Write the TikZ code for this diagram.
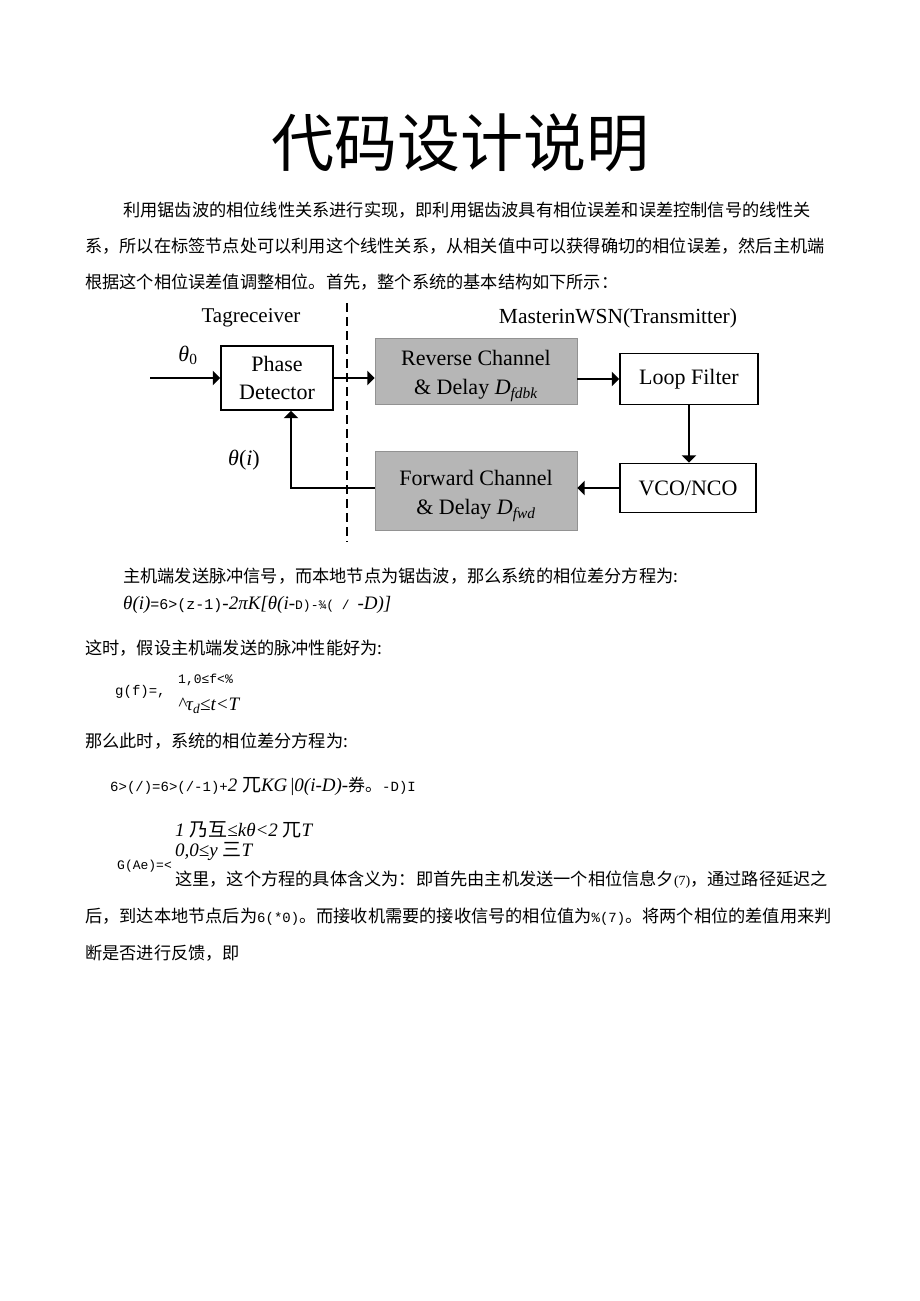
\documentclass[tikz,border=0pt]{standalone}
\usepackage{fontspec}
\setmainfont{Liberation Serif}
\newfontfamily\cjk{Noto Sans CJK SC}
\newfontfamily\hw{Liberation Mono}
\usetikzlibrary{arrows}
\newcommand\fsz[1]{\fontsize{#1}{1.3\dimexpr #1pt\relax}\selectfont}
\definecolor{chgray}{RGB}{182,182,182}
\tikzset{%
  myblock/.style={draw=black, line width=1.6pt, inner sep=0pt, font=\fsz{22}, align=center},
  mychan/.style={fill=chgray, draw=chgray!80!black, line width=0.6pt, inner sep=0pt},
  chantext/.style={align=center, font=\fsz{22}, yshift=-5},
  myedge/.style={->, line width=1.6pt, >=triangle 90},
  mytext/.style={anchor=west, inner sep=0pt, font=\cjk\fsz{17.2}},
  mymath/.style={anchor=west, inner sep=0pt, font=\fsz{19}}
}

\begin{document}
\begin{tikzpicture}[x=1pt, y=-1pt]
\useasboundingbox (0,0) rectangle (920,1301);
\fill [white] (0,0) rectangle (920,1301);

\node (title) [font=\cjk\fsz{63}] at (460,143) {代码设计说明};

\node (p1) [mytext] at (123,210) {利用锯齿波的相位线性关系进行实现，即利用锯齿波具有相位误差和误差控制信号的线性关};
\node (p2) [mytext] at (85,246) {系，所以在标签节点处可以利用这个线性关系，从相关值中可以获得确切的相位误差，然后主机端};
\node (p3) [mytext] at (85,282) {根据这个相位误差值调整相位。首先，整个系统的基本结构如下所示：};

% 系统框图
\node (tag) [font=\fsz{21}] at (251,318) {Tagreceiver};
\node (mst) [font=\fsz{21.5}] at (618,318) {MasterinWSN(Transmitter)};

\coordinate (in) at (150,378);
\coordinate (dtop) at (347,303);
\coordinate (dbot) at (347,542);

\node (pd) [myblock, minimum width=112, minimum height=64] at (277,378) {Phase\\Detector};
\node (rc) [mychan, minimum width=202, minimum height=66] at (476,371) {};
\node (rct) [chantext] at (rc) {Reverse Channel\\\& Delay \textit{D}\textsubscript{\textit{fdbk}}};
\node (lf) [myblock, minimum width=138, minimum height=51] at (689,379) {Loop Filter};
\node (vco) [myblock, minimum width=136, minimum height=49] at (688,488) {VCO/NCO};
\node (fc) [mychan, minimum width=202, minimum height=79] at (476,491) {};
\node (fct) [chantext] at (fc) {Forward Channel\\\& Delay \textit{D}\textsubscript{\textit{fwd}}};

\node (th0) [font=\fsz{22}] at (188,355) {\textit{θ}\textsubscript{0}};
\node (thi) [font=\fsz{22}] at (244,460) {\textit{θ}(\textit{i})};

\draw [dashed, line width=2.6pt, dash pattern=on 9pt off 5pt] (dtop) -- (dbot);

\draw [myedge] (in) -- (pd.west);
\draw [myedge] (pd.east) -- (pd.east -| rc.west);
\draw [myedge] (lf.west -| rc.east) -- (lf.west);
\draw [myedge] (lf.south) -- (lf.south |- vco.north);
\draw [myedge] (vco.west) -- (vco.west -| fc.east);
\draw [myedge] (vco.west -| fc.west) -| ([xshift=14]pd.south);

\node (p4) [mytext] at (123,576) {主机端发送脉冲信号，而本地节点为锯齿波，那么系统的相位差分方程为:};
\node (f1) [mymath] at (123,605) {{\itshape θ(i)}{\hw\fsz{15}=6>(z-1)}{\itshape -2πK[θ(i-}{\hw\fsz{13}D)-¾( / }{\itshape -D)]}};

\node (p5) [mytext] at (85,648) {这时，假设主机端发送的脉冲性能好为:};
\node (g0) [mymath, font=\hw\fsz{14}] at (115,692) {g(f)=,};
\node (g1) [mymath, font=\hw\fsz{13}] at (178,680) {1,0≤f<\%};
\node (g2) [mymath] at (178,706) {\itshape \textasciicircum τ\textsubscript{d}≤t<T};

\node (p6) [mytext] at (85,741) {那么此时，系统的相位差分方程为:};
\node (f2) [mymath] at (110,786) {{\hw\fsz{14}6>(/)=6>(/-1)+}{\itshape 2 {\cjk 兀}KG}\,|{\itshape 0(i-D)-}{\cjk\fsz{17}券。}{\hw\fsz{14}-D)I}};

\node (h1) [mymath] at (175,830) {\itshape 1 {\cjk 乃互}≤kθ<2 {\cjk 兀}T};
\node (h2) [mymath] at (175,851) {\itshape 0,0≤y {\cjk 三}T};
\node (h0) [mymath, font=\hw\fsz{13}] at (117,866) {G(Ae)=<};

\node (p7) [mytext] at (175,880) {这里，这个方程的具体含义为：即首先由主机发送一个相位信息夕{\rmfamily\fsz{14}(7)}，通过路径延迟之};
\node (p8) [mytext] at (85,917) {后，到达本地节点后为{\hw\fsz{14}6(*0)}。而接收机需要的接收信号的相位值为{\hw\fsz{14}\%(7)}。将两个相位的差值用来判};
\node (p9) [mytext] at (85,953) {断是否进行反馈，即};
\end{tikzpicture}
\end{document}
